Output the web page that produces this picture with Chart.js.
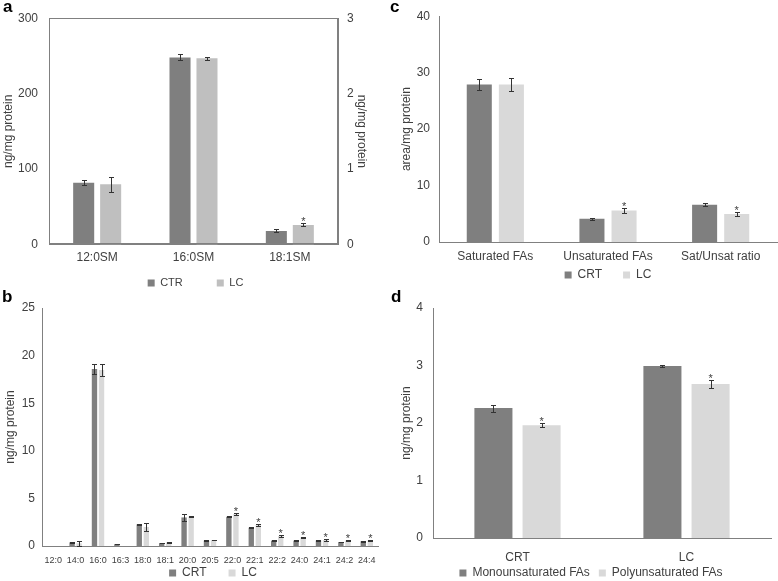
<!DOCTYPE html>
<html><head><meta charset="utf-8">
<script src="https://cdn.jsdelivr.net/npm/chart.js@4.4.0/dist/chart.umd.min.js"></script>
<style>
body{margin:0;background:#fff;}
#fig{position:relative;width:778px;height:581px;overflow:hidden;background:#fff;font-family:"Liberation Sans",Arial,sans-serif;}
.panel{position:absolute;}
.lab{position:absolute;font-weight:bold;font-size:17px;line-height:17px;color:#000;}
</style></head><body>
<div id="fig">
  <div class="panel" style="left:0;top:0;width:390px;height:290px"><canvas id="ca" width="390" height="290"></canvas></div>
  <div class="panel" style="left:390px;top:0;width:388px;height:290px"><canvas id="cc" width="388" height="290"></canvas></div>
  <div class="panel" style="left:0;top:290px;width:390px;height:291px"><canvas id="cb" width="390" height="291"></canvas></div>
  <div class="panel" style="left:390px;top:290px;width:388px;height:291px"><canvas id="cd" width="388" height="291"></canvas></div>
  <div class="lab" style="left:3px;top:-2px">a</div>
  <div class="lab" style="left:390px;top:-2px">c</div>
  <div class="lab" style="left:2px;top:288px">b</div>
  <div class="lab" style="left:391px;top:288px">d</div>
</div>
<script>
// ---- Panel a ----
const aCategories = ['12:0SM', '16:0SM', '18:1SM'];
const aCTR = [82, 248, null];
const aCTRErr = [3, 4, null];
const aLC = [80, 247, null];
const aLCErr = [10, 2, null];
const aCTRRight = [null, null, 0.18];
const aCTRRightErr = [null, null, 0.02];
const aLCRight = [null, null, 0.26];
const aLCRightErr = [null, null, 0.02];
const aLCRightStar = [false, false, true];

// ---- Panel b ----
const bCategories = ['12:0','14:0','16:0','16:3','18:0','18:1','20:0','20:5','22:0','22:1','22:2','24:0','24:1','24:2','24:4'];
const bCRT = [0, 0.38, 18.6, 0.2, 2.27, 0.31, 3.0, 0.56, 3.07, 1.92, 0.56, 0.56, 0.58, 0.42, 0.5];
const bCRTErr = [0, 0.04, 0.53, 0.03, 0.05, 0.03, 0.33, 0.03, 0.05, 0.05, 0.03, 0.03, 0.03, 0.03, 0.03];
const bLC = [0, 0.28, 18.5, 0, 2.0, 0.38, 3.1, 0.63, 3.35, 2.2, 1.05, 0.9, 0.63, 0.58, 0.6];
const bLCErr = [0, 0.28, 0.65, 0, 0.45, 0.05, 0.1, 0.05, 0.08, 0.08, 0.08, 0.08, 0.06, 0.06, 0.06];
const bLCStar = [false,false,false,false,false,false,false,false,true,true,true,true,true,true,true];

// ---- Panel c ----
const cCategories = ['Saturated FAs', 'Unsaturated FAs', 'Sat/Unsat ratio'];
const cCRT = [27.9, 4.1, 6.6];
const cCRTErr = [1.0, 0.2, 0.3];
const cLC = [27.9, 5.6, 4.95];
const cLCErr = [1.2, 0.4, 0.35];
const cLCStar = [false, true, true];

// ---- Panel d ----
const dCategories = ['CRT', 'LC'];
const dMono = [2.26, 2.99];
const dMonoErr = [0.06, 0.02];
const dPoly = [1.96, 2.68];
const dPolyErr = [0.035, 0.07];
const dPolyStar = [true, true];

const FONT = '"Liberation Sans", Arial, sans-serif';
const TXT = '#404040';
const AX = '#808080';
const DARK = '#7f7f7f';
const LIGHT_A = '#bfbfbf';
const LIGHT = '#d9d9d9';

const errorBarPlugin = {
  id: 'errorBars',
  afterDatasetsDraw(chart) {
    const ctx = chart.ctx;
    chart.data.datasets.forEach((ds, i) => {
      const meta = chart.getDatasetMeta(i);
      if (!ds.errors || meta.hidden) return;
      const yScale = chart.scales[meta.yAxisID];
      meta.data.forEach((bar, j) => {
        const v = ds.data[j];
        const e = ds.errors[j];
        if (v === null || v === undefined) return;
        const x = Math.round(bar.x) + 0.5;
        let topVal = v;
        ctx.save();
        ctx.strokeStyle = '#333';
        ctx.lineWidth = 1;
        if (e) {
          const yT = Math.round(yScale.getPixelForValue(v + e)) + 0.5;
          const yB = Math.round(yScale.getPixelForValue(Math.max(v - e, 0))) + 0.5;
          ctx.beginPath();
          ctx.moveTo(x, yT); ctx.lineTo(x, yB);
          ctx.moveTo(x - 2.5, yT); ctx.lineTo(x + 2.5, yT);
          ctx.moveTo(x - 2.5, yB); ctx.lineTo(x + 2.5, yB);
          ctx.stroke();
          topVal = v + e;
        }
        if (ds.stars && ds.stars[j]) {
          ctx.fillStyle = TXT;
          ctx.font = '11px ' + FONT;
          ctx.textAlign = 'center';
          ctx.textBaseline = 'alphabetic';
          ctx.fillText('*', bar.x, yScale.getPixelForValue(topVal) + 2);
        }
        ctx.restore();
      });
    });
  }
};

const framePlugin = {
  id: 'frame',
  afterDraw(chart) {
    const a = chart.chartArea, ctx = chart.ctx;
    ctx.save();
    ctx.strokeStyle = AX;
    ctx.lineWidth = 1;
    ctx.strokeRect(Math.round(a.left) + 0.5, Math.round(a.top) + 0.5, Math.round(a.right - a.left) - 1, Math.round(a.bottom - a.top) - 1);
    ctx.restore();
  }
};

// places the legend row so that its text is centred on a given line
const legendPlace = {
  id: 'legendPlace',
  afterLayout(chart, args, opts) {
    const L = chart.legend;
    if (!L || opts.center === undefined) return;
    const lo = L.options.labels;
    const itemH = Math.max(lo.font.size, lo.boxHeight);
    const newTop = opts.center - lo.padding - itemH / 2;
    L.top = newTop;
    L.bottom = newTop + lo.padding + itemH + 6;
    L.height = L.bottom - L.top;
    if (opts.dx) { L.left += opts.dx; L.right += opts.dx; }
  }
};

function yAxis(o) {
  return {
    type: 'linear', position: o.position || 'left', min: o.min, max: o.max, stacked: false,
    ticks: { stepSize: o.step, padding: o.tickPad, color: TXT, font: { family: FONT, size: 12 } },
    grid: { display: false, drawTicks: false },
    border: { display: true, color: AX, width: 1 },
    title: { display: true, text: o.title, color: TXT, font: { family: FONT, size: 12 }, padding: { top: o.titlePad, bottom: 0 } },
    afterFit(s) { s.width = o.width; }
  };
}
function xAxis(o) {
  return {
    type: 'category',
    ticks: { padding: o.tickPad, color: TXT, font: { family: FONT, size: o.fontSize || 12 }, maxRotation: 0, minRotation: 0, autoSkip: false },
    grid: { display: false, drawTicks: false },
    border: { display: true, color: AX, width: 1 },
    afterFit(s) { s.height = o.height; }
  };
}
function legend(o) {
  return {
    position: 'bottom', fullSize: false, maxHeight: 1,
    labels: {
      boxWidth: 7, boxHeight: 7, padding: o.pad, color: TXT,
      font: { family: FONT, size: o.fontSize || 12 },
      filter: o.filter
    }
  };
}

// Panel a
new Chart(document.getElementById('ca'), {
  type: 'bar',
  data: {
    labels: aCategories,
    datasets: [
      { label: 'CTR', data: aCTR, errors: aCTRErr, backgroundColor: DARK, borderWidth: 0, yAxisID: 'y', stack: 'ctr' },
      { label: 'LC', data: aLC, errors: aLCErr, backgroundColor: LIGHT_A, borderWidth: 0, yAxisID: 'y', stack: 'lc' },
      { label: 'CTR ', data: aCTRRight, errors: aCTRRightErr, backgroundColor: DARK, borderWidth: 0, yAxisID: 'y1', stack: 'ctr' },
      { label: 'LC ', data: aLCRight, errors: aLCRightErr, stars: aLCRightStar, backgroundColor: LIGHT_A, borderWidth: 0, yAxisID: 'y1', stack: 'lc' }
    ]
  },
  options: {
    responsive: false, animation: false,
    categoryPercentage: 0.56, barPercentage: 0.78,
    layout: { padding: { top: 15, left: 0, right: 0, bottom: 18.5 } },
    scales: {
      x: xAxis({ tickPad: 6, height: 26 }),
      y: yAxis({ min: 0, max: 300, step: 100, tickPad: 11, title: 'ng/mg protein', titlePad: 1, width: 49 }),
      y1: yAxis({ position: 'right', min: 0, max: 3, step: 1, tickPad: 9, title: 'ng/mg protein', titlePad: 21, width: 52 })
    },
    plugins: {
      legend: legend({ pad: 34, fontSize: 11, filter: (it) => it.datasetIndex < 2 }),
      legendPlace: { center: 283, dx: 2 },
      tooltip: { enabled: false }
    }
  },
  plugins: [errorBarPlugin, framePlugin, legendPlace]
});

// Panel b
new Chart(document.getElementById('cb'), {
  type: 'bar',
  data: {
    labels: bCategories,
    datasets: [
      { label: 'CRT', data: bCRT, errors: bCRTErr, backgroundColor: DARK, borderWidth: 0 },
      { label: 'LC', data: bLC, errors: bLCErr, stars: bLCStar, backgroundColor: LIGHT, borderWidth: 0 }
    ]
  },
  options: {
    responsive: false, animation: false,
    categoryPercentage: 0.63, barPercentage: 0.76,
    layout: { padding: { top: 18, left: 0, right: 12, bottom: 13 } },
    scales: {
      x: xAxis({ tickPad: 9, height: 21, fontSize: 9 }),
      y: yAxis({ min: 0, max: 25, step: 5, tickPad: 7, title: 'ng/mg protein', titlePad: 3, width: 42 })
    },
    plugins: {
      legend: legend({ pad: 22 }),
      legendPlace: { center: 283, dx: 3 },
      tooltip: { enabled: false }
    }
  },
  plugins: [errorBarPlugin, legendPlace]
});

// Panel c
new Chart(document.getElementById('cc'), {
  type: 'bar',
  data: {
    labels: cCategories,
    datasets: [
      { label: 'CRT', data: cCRT, errors: cCRTErr, backgroundColor: DARK, borderWidth: 0 },
      { label: 'LC', data: cLC, errors: cLCErr, stars: cLCStar, backgroundColor: LIGHT, borderWidth: 0 }
    ]
  },
  options: {
    responsive: false, animation: false,
    categoryPercentage: 0.57, barPercentage: 0.78,
    layout: { padding: { top: 15.5, left: 0, right: 1, bottom: 23 } },
    scales: {
      x: xAxis({ tickPad: 7, height: 24 }),
      y: yAxis({ min: 0, max: 40, step: 10, tickPad: 9, title: 'area/mg protein', titlePad: 9, width: 49 })
    },
    plugins: {
      legend: legend({ pad: 21 }),
      legendPlace: { center: 275 },
      tooltip: { enabled: false }
    }
  },
  plugins: [errorBarPlugin, legendPlace]
});

// Panel d
new Chart(document.getElementById('cd'), {
  type: 'bar',
  data: {
    labels: dCategories,
    datasets: [
      { label: 'Monounsaturated FAs', data: dMono, errors: dMonoErr, backgroundColor: DARK, borderWidth: 0 },
      { label: 'Polyunsaturated FAs', data: dPoly, errors: dPolyErr, stars: dPolyStar, backgroundColor: LIGHT, borderWidth: 0 }
    ]
  },
  options: {
    responsive: false, animation: false,
    categoryPercentage: 0.57, barPercentage: 0.79,
    layout: { padding: { top: 18, left: 0, right: 7, bottom: 14 } },
    scales: {
      x: xAxis({ tickPad: 12, height: 28 }),
      y: yAxis({ min: 0, max: 4, step: 1, tickPad: 10, title: 'ng/mg protein', titlePad: 9, width: 43 })
    },
    plugins: {
      legend: legend({ pad: 9 }),
      legendPlace: { center: 283, dx: -11 },
      tooltip: { enabled: false }
    }
  },
  plugins: [errorBarPlugin, legendPlace]
});
</script>
</body></html>
